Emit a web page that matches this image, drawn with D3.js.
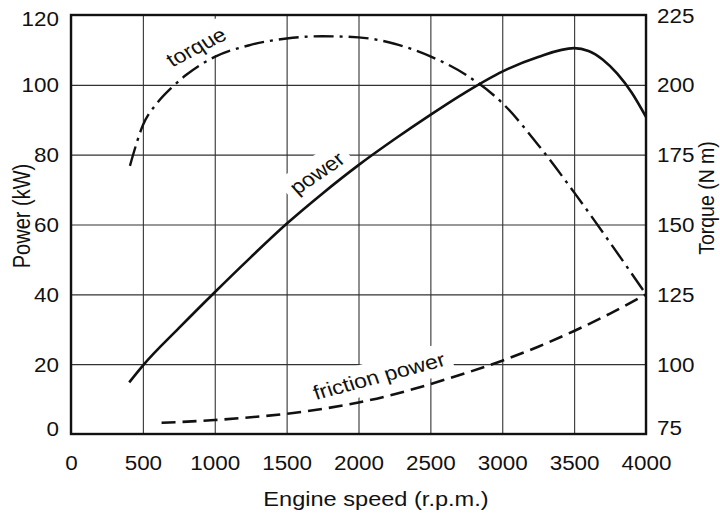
<!DOCTYPE html>
<html><head><meta charset="utf-8">
<script src="https://cdn.jsdelivr.net/npm/d3@7"></script>
<style>
html,body{margin:0;padding:0;background:#fff;}
svg{display:block;}
text{font-family:"Liberation Sans",Arial,Helvetica,sans-serif;fill:#111;}
</style></head><body>
<svg id="chart" width="720" height="513"></svg>
<script>
// ---- data ----
const rpmTicks = [0, 500, 1000, 1500, 2000, 2500, 3000, 3500, 4000];
const powerTicks = [0, 20, 40, 60, 80, 100, 120];
const torqueTicks = [75, 100, 125, 150, 175, 200, 225];

const powerRpm = [405, 500, 750, 1000, 1250, 1500, 1750, 2000, 2250, 2500, 2750, 3000, 3250, 3500, 3600, 3700, 3800, 3900, 4000];
const powerKW  = [14.8, 19.6, 30.3, 40.6, 50.6, 60.2, 68.9, 77.0, 84.4, 91.4, 98.0, 103.8, 108.0, 110.5, 109.7, 107.2, 103.2, 97.8, 90.8];

const torqueRpm = [410, 500, 600, 700, 800, 1000, 1250, 1500, 1750, 2000, 2250, 2500, 2750, 3000, 3250, 3500, 3750, 4000];
const torqueNm  = [171, 185.5, 193.5, 199, 203.5, 210, 214.3, 216.6, 217.4, 217, 214.7, 210.2, 203.5, 193.5, 178.5, 161.5, 143.5, 125];

const frictionRpm = [630, 1000, 1250, 1500, 1750, 2000, 2250, 2500, 2750, 3000, 3250, 3500, 3750, 4000];
const frictionKW  = [3.2, 4.0, 4.8, 5.8, 7.2, 9.0, 11.4, 14.3, 17.5, 21.0, 25.0, 29.5, 34.5, 40];

const xTitle = "Engine speed (r.p.m.)";
const yLeftTitle = "Power (kW)";
const yRightTitle = "Torque (N m)";
const curveNames = ["torque", "power", "friction power"];

// ---- layout ----
const W = 720, H = 513;
const m = {l: 71, r: 646, t: 15, b: 434};
const SX = 1.15; // horizontal stretch of the printed type
const x  = d3.scaleLinear().domain([0, 4000]).range([m.l, m.r]);
const yP = d3.scaleLinear().domain([0, 120]).range([m.b, m.t]);
const yT = d3.scaleLinear().domain([75, 225]).range([m.b, m.t]);

const svg = d3.select("#chart");
svg.append("rect").attr("width", W).attr("height", H).attr("fill", "#fff");

// gridlines
svg.append("g").attr("transform", `translate(0,${m.b})`)
  .call(d3.axisBottom(x).tickValues(rpmTicks).tickSize(-(m.b - m.t)).tickFormat(""))
  .call(g => { g.select(".domain").remove(); g.selectAll("line").attr("stroke", "#333").attr("stroke-width", 1.1); });
svg.append("g").attr("transform", `translate(${m.l},0)`)
  .call(d3.axisLeft(yP).tickValues(powerTicks).tickSize(-(m.r - m.l)).tickFormat(""))
  .call(g => { g.select(".domain").remove(); g.selectAll("line").attr("stroke", "#333").attr("stroke-width", 1.1); });

// tick labels
const axL = svg.append("g").attr("transform", `translate(${m.l},0)`)
  .call(d3.axisLeft(yP).tickValues(powerTicks).tickFormat(d3.format("d")).tickSize(0).tickPadding(0));
axL.select(".domain").remove();
axL.selectAll("text").attr("x", 0).attr("dy", "0.36em").attr("font-size", 19.5)
  .attr("transform", d => `translate(-12,${d === 0 ? -6 : d === 120 ? 3 : 0}) scale(${SX},1)`);

const axR = svg.append("g").attr("transform", `translate(${m.r},0)`)
  .call(d3.axisRight(yT).tickValues(torqueTicks).tickFormat(d3.format("d")).tickSize(0).tickPadding(0));
axR.select(".domain").remove();
axR.selectAll("text").attr("x", 0).attr("dy", "0.36em").attr("font-size", 19.5)
  .attr("transform", d => `translate(11,${d === 75 ? -7 : 0}) scale(${SX},1)`);

const axB = svg.append("g").attr("transform", `translate(0,${m.b})`)
  .call(d3.axisBottom(x).tickValues(rpmTicks).tickFormat(d3.format("d")).tickSize(0).tickPadding(0));
axB.select(".domain").remove();
axB.selectAll("text").attr("y", 36).attr("dy", null).attr("font-size", 19.5)
  .attr("transform", `scale(${SX},1)`);

// axis titles
svg.append("g").attr("transform", `translate(376,506) scale(${SX},1)`)
  .append("text").attr("text-anchor", "middle").attr("font-size", 20.5).text(xTitle);
svg.append("g").attr("transform", `translate(22,216) scale(${SX},1) rotate(-90)`)
  .append("text").attr("text-anchor", "middle").attr("dy", "0.36em").attr("font-size", 20).text(yLeftTitle);
svg.append("g").attr("transform", `translate(706,198) scale(${SX},1) rotate(-90)`)
  .append("text").attr("text-anchor", "middle").attr("dy", "0.36em").attr("font-size", 19.5).text(yRightTitle);

// curve labels with white boxes
function curveLabel(txt, cx, cy, ang) {
  const g = svg.append("g").attr("transform", `translate(${cx},${cy}) scale(${SX},1) rotate(${ang})`);
  const r = g.append("rect").attr("fill", "#fff");
  const t = g.append("text").attr("text-anchor", "middle").attr("dy", "0.35em").attr("font-size", 20).text(txt);
  const b = t.node().getBBox();
  r.attr("x", b.x - 6).attr("y", b.y - 4).attr("width", b.width + 12).attr("height", b.height + 8);
}
curveLabel(curveNames[0], 196, 47, -31);
curveLabel(curveNames[1], 317, 173, -38);
curveLabel(curveNames[2], 379, 376, -17);

// curves
const lineP = d3.line().x(d => x(d[0])).y(d => yP(d[1])).curve(d3.curveMonotoneX);
const lineT = d3.line().x(d => x(d[0])).y(d => yT(d[1])).curve(d3.curveMonotoneX);

svg.append("path").datum(d3.zip(powerRpm, powerKW)).attr("d", lineP)
  .attr("fill", "none").attr("stroke", "#111").attr("stroke-width", 2.6).attr("stroke-linejoin", "round");
svg.append("path").datum(d3.zip(torqueRpm, torqueNm)).attr("d", lineT)
  .attr("fill", "none").attr("stroke", "#111").attr("stroke-width", 2.4)
  .attr("stroke-dasharray", "20,6,3,6");
svg.append("path").datum(d3.zip(frictionRpm, frictionKW)).attr("d", lineP)
  .attr("fill", "none").attr("stroke", "#111").attr("stroke-width", 2.6)
  .attr("stroke-dasharray", "14,7");

// frame
svg.append("rect").attr("x", m.l).attr("y", m.t).attr("width", m.r - m.l).attr("height", m.b - m.t)
  .attr("fill", "none").attr("stroke", "#111").attr("stroke-width", 2.4);
</script>
</body></html>
